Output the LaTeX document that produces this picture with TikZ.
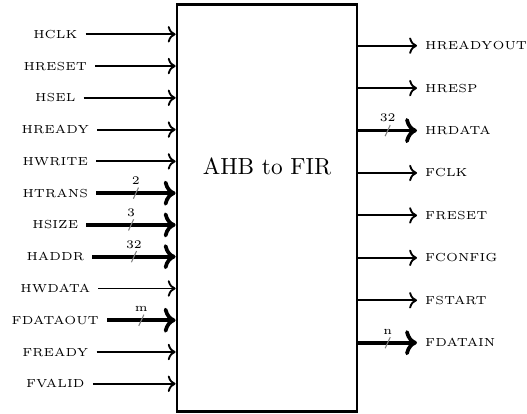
\documentclass[tikz,border=0pt]{standalone}
\usetikzlibrary{arrows.meta}
\begin{document}
\begin{tikzpicture}[x=0.4292pt, y=-0.4292pt,
  sig/.style={thick, ->},
  bus/.style={ultra thick, ->},
  lab/.style={font=\tiny, inner sep=3.33pt},
  slash/.style={gray, line width=0.45pt},
  mid/.style={midway, inner sep=0pt, minimum size=0pt, label={[font=\tiny, inner sep=2pt]above:#1}}]
\useasboundingbox (0,0) rectangle (527,414);
\node[draw, very thick, inner sep=0pt, minimum width=77.25pt, minimum height=174.6pt] (box) at (267,208.1) {};
\node (title) at (267,166.5) {AHB to FIR};
% left inputs
\foreach \n/\t [count=\i from 0] in {l1/HCLK,l2/HRESET,l3/HSEL,l4/HREADY,l5/HWRITE,l6/HTRANS,l7/HSIZE,l8/HADDR,l9/HWDATA,l10/FDATAOUT,l11/FREADY,l12/FVALID}{
  \node[lab] (\n) at (55.3,{34.3+31.77*\i}) {\t};
}
\draw[sig] (l1.east) -- (l1.east -| box.west);
\draw[sig] (l2.east) -- (l2.east -| box.west);
\draw[sig] (l3.east) -- (l3.east -| box.west);
\draw[sig] (l4.east) -- (l4.east -| box.west);
\draw[sig] (l5.east) -- (l5.east -| box.west);
\draw[bus] (l6.east) -- (l6.east -| box.west) node[mid=2] (m6) {};
\draw[bus] (l7.east) -- (l7.east -| box.west) node[mid=3] (m7) {};
\draw[bus] (l8.east) -- (l8.east -| box.west) node[mid=32] (m8) {};
\draw[sig] (l9.east) -- (l9.east -| box.west);
\draw[bus] (l10.east) -- (l10.east -| box.west) node[mid=m] (m10) {};
\draw[sig] (l11.east) -- (l11.east -| box.west);
\draw[sig] (l12.east) -- (l12.east -| box.west);
% right outputs
\foreach \n/\t [count=\i from 0] in {r1/HREADYOUT,r2/HRESP,r3/HRDATA,r4/FCLK,r5/FRESET,r6/FCONFIG,r7/FSTART,r8/FDATAIN}{
  \node[lab, anchor=west] (\n) at (417,{45.7+42.43*\i}) {\t};
}
\draw[sig] (box.east |- r1.west) -- (r1.west);
\draw[sig] (box.east |- r2.west) -- (r2.west);
\draw[bus] (box.east |- r3.west) -- (r3.west) node[mid=32] (m3) {};
\draw[sig] (box.east |- r4.west) -- (r4.west);
\draw[sig] (box.east |- r5.west) -- (r5.west);
\draw[sig] (box.east |- r6.west) -- (r6.west);
\draw[sig] (box.east |- r7.west) -- (r7.west);
\draw[bus] (box.east |- r8.west) -- (r8.west) node[mid=n] (m8r) {};
% bus slashes
\foreach \m in {m6,m7,m8,m10,m3,m8r}{
  \draw[slash] ([shift={(-1.1pt,-2.4pt)}]\m.center) -- ([shift={(1.1pt,2.4pt)}]\m.center);
}
\end{tikzpicture}
\end{document}
